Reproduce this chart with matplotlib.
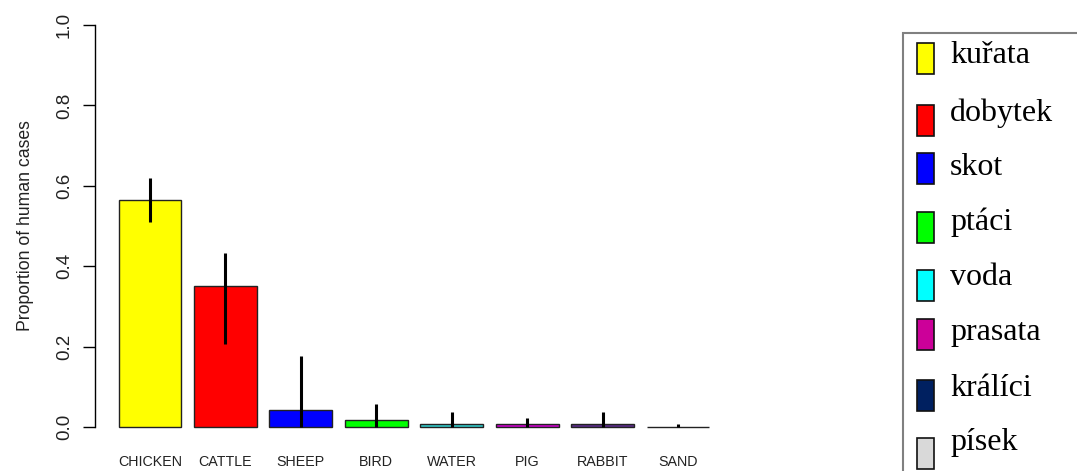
import matplotlib
matplotlib.use("Agg")
import matplotlib.pyplot as plt
from matplotlib.patches import Rectangle

categories = ["CHICKEN", "CATTLE", "SHEEP", "BIRD", "WATER", "PIG", "RABBIT", "SAND"]
values = [0.564, 0.351, 0.043, 0.016, 0.008, 0.0075, 0.007, 0.001]
err_low = [0.509, 0.206, 0.0, 0.0, 0.0, 0.0, 0.0, 0.0]
err_high = [0.619, 0.432, 0.176, 0.056, 0.036, 0.022, 0.038, 0.008]
bar_colors = ["#FFFF00", "#FF0000", "#0000FF", "#00FF00", "#33CCCC", "#CC00CC", "#5B2C8A", "#D9D9D9"]
yticks = [0.0, 0.2, 0.4, 0.6, 0.8, 1.0]

legend_labels = ["kuřata", "dobytek", "skot", "ptáci", "voda", "prasata", "králíci", "písek"]
legend_colors = ["#FFFF00", "#FF0000", "#0000FF", "#00FF00", "#00FFFF", "#CC0099", "#002060", "#D9D9D9"]

W, H = 1077, 471
fig = plt.figure(figsize=(W / 100, H / 100), dpi=100)
plt.rcParams['font.family'] = ['Liberation Sans', 'DejaVu Sans']

ax = fig.add_axes([95 / W, 1 - 443 / H, (733 - 95) / W, (443 - 9) / H])
x = [0.7 + 1.2 * i for i in range(len(categories))]
ax.bar(x, values, width=1.0, color=bar_colors, edgecolor="#222222", linewidth=1.0)
for xi, lo, hi in zip(x, err_low, err_high):
    ax.plot([xi, xi], [lo, hi], color="black", linewidth=2.2, solid_capstyle="butt")

ax.set_xlim(-0.176, 9.976)
ax.set_ylim(-0.04, 1.04)
for s in ["top", "right", "bottom"]:
    ax.spines[s].set_visible(False)
ax.spines["left"].set_bounds(0, 1)
ax.spines["left"].set_linewidth(1.0)
ax.set_yticks(yticks)
ax.set_yticklabels([f"{t:.1f}" for t in yticks], rotation=90, va="center", fontsize=13.5,
                   color="#222222")
ax.tick_params(axis="y", length=9, width=1.0, pad=7)
ax.set_xticks(x)
ax.set_xticklabels(categories, fontsize=10.3, color="#222222")
ax.tick_params(axis="x", length=0, pad=9)
ax.set_ylabel("Proportion of human cases", fontsize=12.7, labelpad=16, color="#222222")

# legend panel
fig.patches.append(Rectangle((903 / W, -0.1), 0.5, 1.1 - 33 / H, transform=fig.transFigure,
                             facecolor="white", edgecolor="#808080", linewidth=1.5))
centers = [58.3, 120, 168.5, 227.7, 285.8, 334, 395.8, 453.5]
baselines = [63.3, 120.5, 175, 230, 285, 340, 395.7, 450]
for lab, col, c, b in zip(legend_labels, legend_colors, centers, baselines):
    fig.patches.append(Rectangle((917 / W, 1 - (c + 15.5) / H), 16.5 / W, 31 / H,
                                 transform=fig.transFigure, facecolor=col,
                                 edgecolor="#111111", linewidth=1.2))
    fig.text(950 / W, 1 - b / H, lab, fontsize=23, family=["Liberation Serif", "DejaVu Serif"],
             va="baseline", ha="left")

fig.savefig("out.png", dpi=100)
